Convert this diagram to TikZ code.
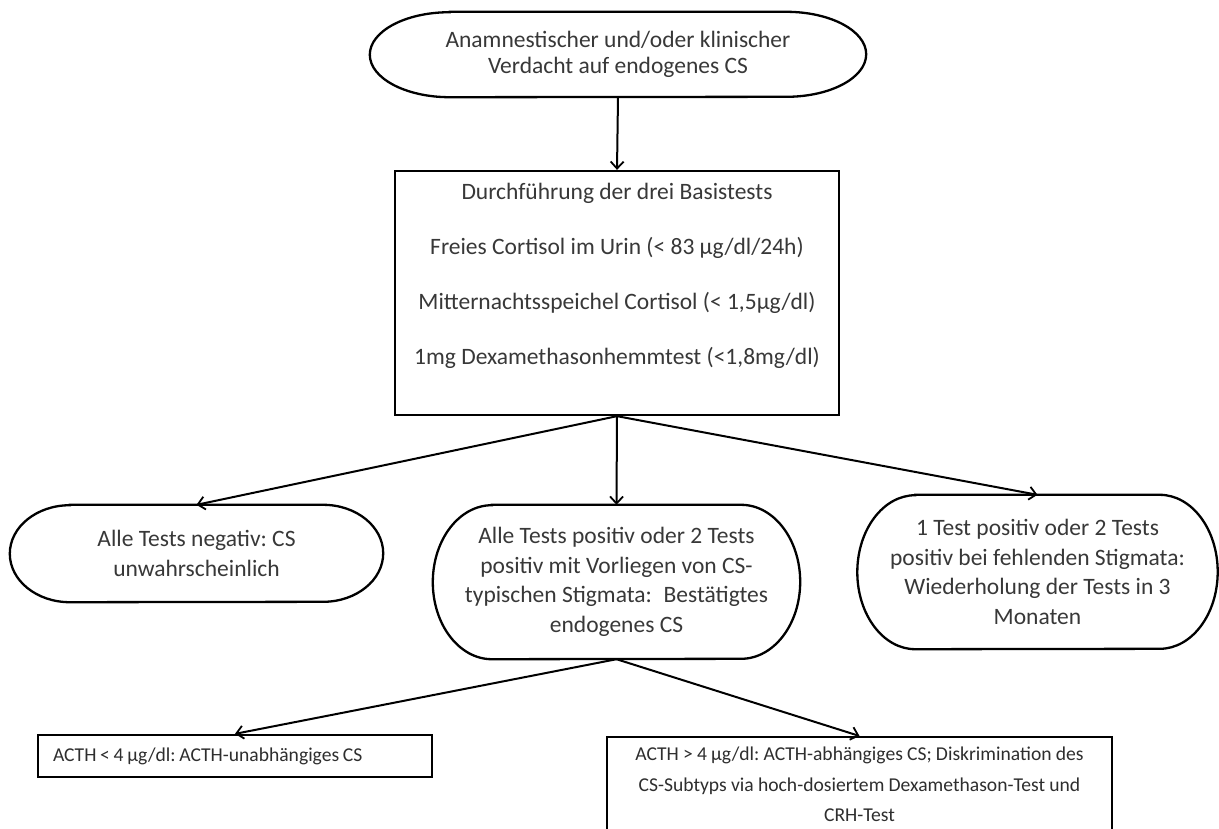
\documentclass[tikz,border=0pt]{standalone}
\usepackage{fontspec}
\setmainfont{Carlito}
\usetikzlibrary{arrows.meta,calc}
\frenchspacing
\tikzset{
  txt/.style={font=\fontsize{23.5}{29.5}\selectfont, text=black!78},
  smalltxt/.style={font=\fontsize{19.6}{30.5}\selectfont, text=black!82,
    execute at begin node={\spaceskip=3.7pt plus 1pt\relax}},
  termtext/.style={txt, align=center, inner sep=0pt},
  boxnode/.style={txt, draw=black, line width=2.3pt, inner sep=0pt},
  conn/.style={line width=2pt, -{Straight Barb[length=7pt,width=13pt,line width=1.8pt]}},
  termline/.style={draw=black, line width=2.3pt}
}
\newcommand\mkterm[6]{%
  \node[termtext, minimum width=#4pt, minimum height=#5pt] (#1) at (#2,#3) {#6};
  \pgfmathsetmacro\termrx{0.161*#4}%
  \pgfmathsetmacro\termry{#5/2}%
  \draw[termline] ([xshift=\termrx pt]#1.north west) -- ([xshift=-\termrx pt]#1.north east)
    arc[start angle=90,end angle=-90,x radius=\termrx pt,y radius=\termry pt]
    -- ([xshift=\termrx pt]#1.south west)
    arc[start angle=270,end angle=90,x radius=\termrx pt,y radius=\termry pt] -- cycle;
}
\begin{document}
\begin{tikzpicture}[x=1pt,y=-1pt]
\useasboundingbox (0,0) rectangle (1219,828);
\clip (0,0) rectangle (1219,828);
\fill[white] (0,0) rectangle (1219,828);

\mkterm{start}{618}{54.5}{496}{85}{Anamnestischer und/oder klinischer\\[-3pt]Verdacht auf endogenes CS}

\node[boxnode, minimum width=444pt, minimum height=244pt, align=center] (basis) at (617,293)
  {Durchführung der drei Basistests\\[25.5pt]
   Freies Cortisol im Urin (< 83 µg/dl/24h)\\[25.5pt]
   Mitternachtsspeichel Cortisol (< 1,5µg/dl)\\[25.5pt]
   1mg Dexamethasonhemmtest (<1,8mg/dl)\\[0pt]\strut};

\mkterm{neg}{196.5}{553.5}{373}{97}{Alle Tests negativ: CS\\unwahrscheinlich}
\mkterm{pos}{616.5}{582}{367}{154}{Alle Tests positiv oder 2 Tests\\positiv mit Vorliegen von CS-\\typischen Stigmata:\enspace Bestätigtes\\endogenes CS}
\mkterm{rep}{1037.5}{572}{360}{154}{1 Test positiv oder 2 Tests\\positiv bei fehlenden Stigmata:\\Wiederholung der Tests in 3\\Monaten}

\node[boxnode, smalltxt, text width=364pt, inner xsep=15pt, minimum height=42pt, align=left] (indep) at (235,756)
  {ACTH < 4 µg/dl: ACTH-unabhängiges CS};
\node[boxnode, smalltxt, text width=485pt, inner xsep=10pt, inner ysep=10pt, align=center, anchor=north] (dep) at (859.5,736)
  {ACTH > 4 µg/dl: ACTH-abhängiges CS; Diskrimination des\\CS-Subtyps via hoch-dosiertem Dexamethason-Test und\\CRH-Test};

\draw[conn] (start.south) -- (basis.north);
\draw[conn] (basis.south) -- (neg.north);
\draw[conn] (basis.south) -- (pos.north);
\draw[conn] (basis.south) -- (rep.north);
\draw[conn] (pos.south) -- (indep.north);
\draw[conn] (pos.south) -- (dep.north);
\end{tikzpicture}
\end{document}
